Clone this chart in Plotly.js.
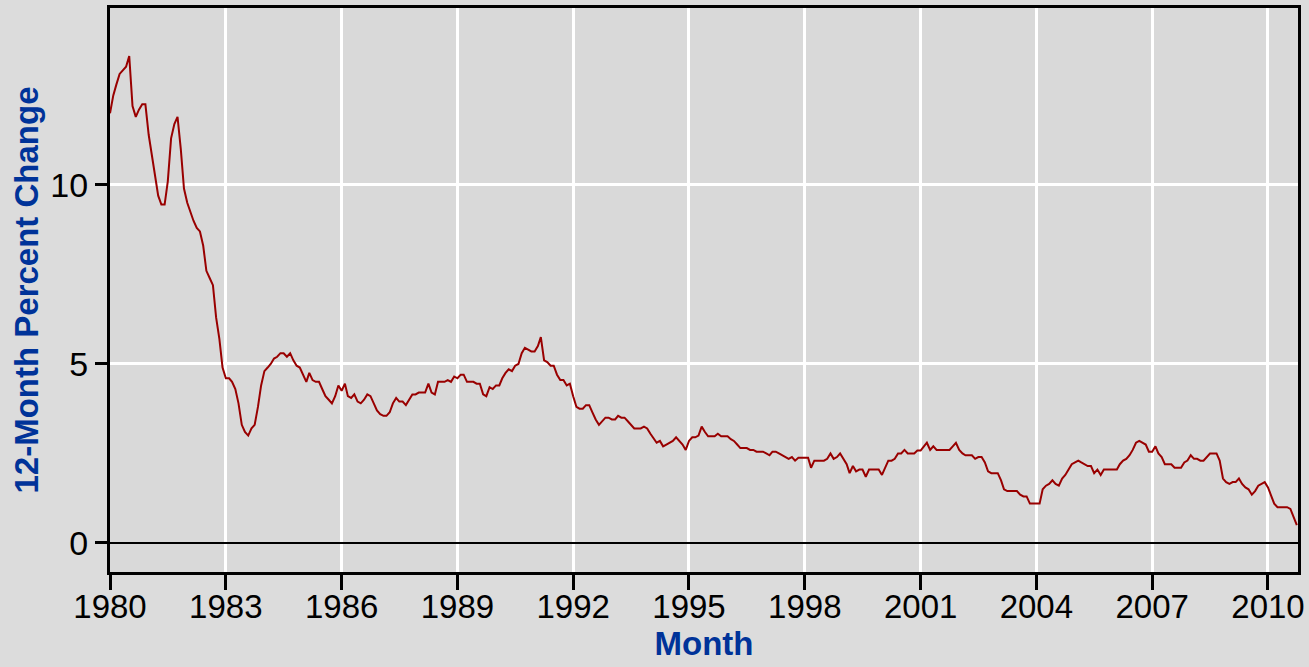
<!DOCTYPE html>
<html>
<head>
<meta charset="utf-8">
<script src="https://cdn.plot.ly/plotly-3.0.1.min.js"></script>
<style>
html,body{margin:0;padding:0;background:#dcdcdc;}
#chart{width:1309px;height:667px;}
</style>
</head>
<body>
<div id="chart"></div>
<script>
// Monthly 12-month percent change, starting January 1980
const startYear = 1980;
const values1980s = [
  12.0, 12.5, 12.8, 13.1, 13.2, 13.3, 13.6, 12.2, 11.9, 12.1, 12.25, 12.25,
  11.4, 10.8, 10.2, 9.7, 9.45, 9.45, 10.1, 11.3, 11.7, 11.9, 11.0, 9.9,
  9.5, 9.2, 9.0, 8.8, 8.7, 8.3, 7.6, 7.4, 7.2, 6.3, 5.7, 4.9,
  4.6, 4.6, 4.5, 4.3, 3.9, 3.3, 3.1, 3.0, 3.2, 3.3, 3.8, 4.4,
  4.8, 4.9, 5.0, 5.15, 5.2, 5.3, 5.3, 5.2, 5.3, 5.1, 4.95, 4.9,
  4.7, 4.5, 4.75, 4.55, 4.5, 4.5, 4.3, 4.1, 4.0, 3.9, 4.1, 4.4,
  4.25, 4.45, 4.1, 4.05, 4.15, 3.95, 3.9, 4.0, 4.15, 4.1, 3.9, 3.7,
  3.6, 3.55, 3.55, 3.65, 3.9, 4.05, 3.95, 3.95, 3.85, 4.0, 4.15, 4.15,
  4.2, 4.2, 4.2, 4.45, 4.2, 4.15, 4.5, 4.5, 4.5, 4.55, 4.5, 4.65,
  4.6, 4.7, 4.7, 4.5, 4.5, 4.5, 4.45, 4.45, 4.15, 4.1, 4.35, 4.3
];
const values1990s = [
  4.4, 4.4, 4.6, 4.75, 4.85, 4.8, 4.95, 5.0, 5.3, 5.45, 5.4, 5.35,
  5.35, 5.5, 5.75, 5.1, 5.05, 4.95, 4.95, 4.7, 4.55, 4.55, 4.4, 4.45,
  4.1, 3.8, 3.75, 3.75, 3.85, 3.85, 3.65, 3.45, 3.3, 3.4, 3.5, 3.5,
  3.45, 3.45, 3.55, 3.5, 3.5, 3.4, 3.3, 3.2, 3.2, 3.2, 3.25, 3.2,
  3.05, 2.9, 2.8, 2.85, 2.7, 2.75, 2.8, 2.85, 2.95, 2.85, 2.75, 2.6,
  2.85, 2.95, 2.95, 3.0, 3.25, 3.1, 2.98, 2.98, 2.98, 3.05, 2.98, 2.98,
  2.98, 2.9, 2.85, 2.75, 2.65, 2.65, 2.65, 2.6, 2.6, 2.55, 2.55, 2.55,
  2.5, 2.45, 2.55, 2.55, 2.5, 2.45, 2.4, 2.35, 2.4, 2.3, 2.38, 2.38,
  2.38, 2.38, 2.1, 2.3, 2.3, 2.3, 2.3, 2.35, 2.5, 2.35, 2.4, 2.5,
  2.35, 2.2, 1.95, 2.15, 2.0, 2.05, 2.05, 1.85, 2.05, 2.05, 2.05, 2.05
];
const values2000s = [
  1.9, 2.1, 2.3, 2.3, 2.35, 2.5, 2.5, 2.6, 2.5, 2.5, 2.5, 2.58,
  2.58, 2.7, 2.8, 2.6, 2.7, 2.6, 2.6, 2.6, 2.6, 2.6, 2.7, 2.8,
  2.6, 2.5, 2.45, 2.45, 2.45, 2.35, 2.4, 2.4, 2.25, 2.0, 1.95, 1.95,
  1.95, 1.75, 1.5, 1.45, 1.45, 1.45, 1.45, 1.35, 1.3, 1.3, 1.1, 1.1,
  1.1, 1.1, 1.5, 1.6, 1.65, 1.75, 1.65, 1.6, 1.8, 1.9, 2.05, 2.2,
  2.25, 2.3, 2.25, 2.2, 2.15, 2.15, 1.95, 2.05, 1.9, 2.05, 2.05, 2.05,
  2.05, 2.05, 2.2, 2.3, 2.35, 2.45, 2.6, 2.8, 2.85, 2.8, 2.75, 2.55,
  2.55, 2.7, 2.5, 2.4, 2.2, 2.2, 2.2, 2.1, 2.1, 2.1, 2.25, 2.3,
  2.45, 2.35, 2.35, 2.3, 2.3, 2.4, 2.5, 2.5, 2.5, 2.3, 1.8, 1.7,
  1.65, 1.7, 1.7, 1.8, 1.65, 1.55, 1.5, 1.35, 1.45, 1.6, 1.65, 1.7
];
const values2010 = [1.55, 1.3, 1.1, 1.0, 1.0, 1.0, 1.0, 0.95, 0.7, 0.5];

const yTickVals = [0, 5, 10];
const yTickText = ['0', '5', '10'];
const xTickYears = ['1980','1983','1986','1989','1992','1995','1998','2001','2004','2007','2010'];

const values = values1980s.concat(values1990s, values2000s, values2010);
const dates = values.map((v, i) => {
  const y = startYear + Math.floor(i / 12);
  const m = (i % 12) + 1;
  return y + '-' + (m < 10 ? '0' + m : m) + '-01';
});

const trace = {
  x: dates,
  y: values,
  type: 'scatter',
  mode: 'lines',
  line: {color: '#990000', width: 2},
  hoverinfo: 'x+y'
};

const layout = {
  width: 1309,
  height: 667,
  paper_bgcolor: '#dcdcdc',
  plot_bgcolor: '#d9d9d9',
  margin: {l: 110, r: 11, t: 8, b: 95, pad: 0},
  showlegend: false,
  font: {family: 'Liberation Sans, Arial, sans-serif', color: '#000000'},
  xaxis: {
    type: 'date',
    range: ['1980-01-01', '2010-10-12'],
    tickvals: xTickYears.map(y => y + '-01-01'),
    ticktext: xTickYears,
    tickfont: {size: 33, family: 'Liberation Sans, Arial, sans-serif'},
    ticklabelstandoff: -12,
    ticks: 'outside',
    ticklen: 15,
    tickwidth: 3,
    tickcolor: '#000000',
    showline: true,
    linecolor: '#000000',
    linewidth: 3,
    mirror: true,
    showgrid: true,
    gridcolor: '#ffffff',
    gridwidth: 3,
    zeroline: false,
    title: {text: 'Month', font: {size: 33, color: '#003399', family: 'Liberation Sans, Arial, sans-serif', weight: 'bold'}, standoff: 9}
  },
  yaxis: {
    range: [-0.81, 14.94],
    tickvals: yTickVals,
    ticktext: yTickText,
    tickfont: {size: 34, family: 'Liberation Sans, Arial, sans-serif'},
    ticks: 'outside',
    ticklen: 12,
    tickwidth: 3,
    tickcolor: '#000000',
    showline: true,
    linecolor: '#000000',
    linewidth: 3,
    mirror: true,
    showgrid: true,
    gridcolor: '#ffffff',
    gridwidth: 3,
    zeroline: true,
    zerolinecolor: '#000000',
    zerolinewidth: 2,
    title: {text: '12-Month Percent Change', font: {size: 33, color: '#003399', family: 'Liberation Sans, Arial, sans-serif', weight: 'bold'}, standoff: 2}
  }
};

Plotly.newPlot('chart', [trace], layout, {displayModeBar: false, staticPlot: true});
</script>
</body>
</html>
